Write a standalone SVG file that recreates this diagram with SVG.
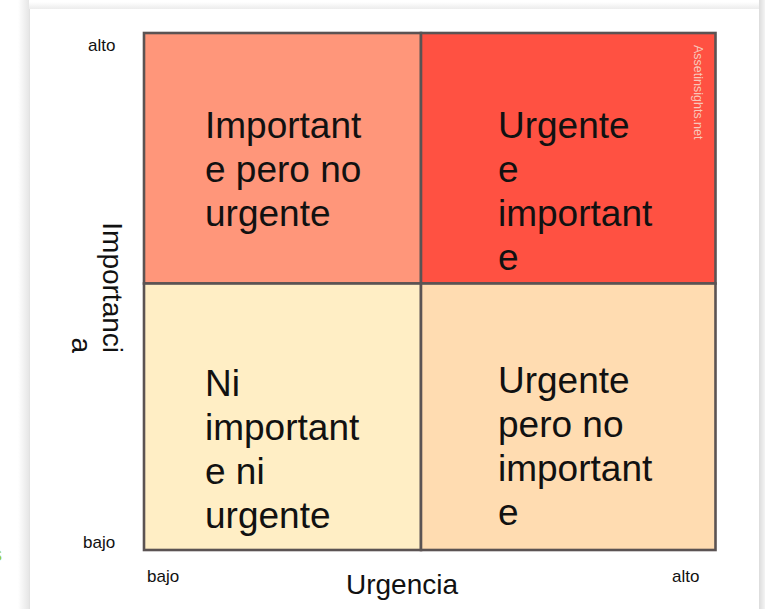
<svg xmlns="http://www.w3.org/2000/svg" width="765" height="609" viewBox="0 0 765 609">
<defs>
<linearGradient id="shL" x1="0" x2="1" y1="0" y2="0"><stop offset="0" stop-color="#ffffff"/><stop offset="1" stop-color="#e6e6e6"/></linearGradient>
<linearGradient id="shR" x1="0" x2="1" y1="0" y2="0"><stop offset="0" stop-color="#dcdcdc"/><stop offset="1" stop-color="#f4f4f4"/></linearGradient>
<linearGradient id="shT" x1="0" x2="0" y1="0" y2="1"><stop offset="0" stop-color="#ffffff"/><stop offset="1" stop-color="#ececec"/></linearGradient>
<style>
.q{stroke:#5b5353;stroke-width:2.6}
.big{font-family:"Liberation Sans",Arial,sans-serif;font-size:37px;fill:#111}
.sm{font-family:"Liberation Sans",Arial,sans-serif;font-size:17px;fill:#111}
.ax{font-family:"Liberation Sans",Arial,sans-serif;font-size:28px;fill:#111}
.wm{font-family:"Liberation Sans",Arial,sans-serif;font-size:12.5px;fill:#f7c7bb}
</style>
</defs>
<rect width="765" height="609" fill="#ffffff"/>
<rect x="18" y="0" width="11" height="609" fill="url(#shL)"/>
<rect x="29" y="2" width="731" height="7" fill="url(#shT)"/>
<rect x="759" y="0" width="6" height="609" fill="url(#shR)"/>
<rect x="29" y="9" width="730" height="600" fill="#ffffff"/>
<line x1="29.5" y1="9" x2="29.5" y2="609" stroke="#e2e2e2" stroke-width="1"/>
<text x="-8" y="561" font-family="Liberation Sans,Arial,sans-serif" font-size="20" fill="#9acd32">s</text>

<g id="q-tl"><rect class="q" x="144" y="33" width="277" height="250.5" fill="#ff967a"/>
<text class="big" x="205" y="138">Important</text><text class="big" x="205" y="182">e pero no</text><text class="big" x="205" y="226">urgente</text></g>
<g id="q-tr"><rect class="q" x="421" y="33" width="294.5" height="250.5" fill="#ff5142"/>
<text class="big" x="498" y="138">Urgente</text><text class="big" x="498" y="182">e</text><text class="big" x="498" y="226">important</text><text class="big" x="498" y="270">e</text>
<text class="wm" transform="translate(694,45) rotate(90)">Assetinsights.net</text></g>
<g id="q-bl"><rect class="q" x="144" y="283.5" width="277" height="266.5" fill="#ffeec5"/>
<text class="big" x="205" y="396">Ni</text><text class="big" x="205" y="440">important</text><text class="big" x="205" y="484">e ni</text><text class="big" x="205" y="528">urgente</text></g>
<g id="q-br"><rect class="q" x="421" y="283.5" width="294.5" height="266.5" fill="#ffdcb1"/>
<text class="big" x="498" y="393">Urgente</text><text class="big" x="498" y="437">pero no</text><text class="big" x="498" y="481">important</text><text class="big" x="498" y="525">e</text></g>

<g id="labels">
<text class="sm" x="88" y="51">alto</text>
<text class="sm" x="83" y="548">bajo</text>
<text class="sm" x="147" y="582">bajo</text>
<text class="sm" x="672" y="582">alto</text>
<text class="ax" x="346" y="594">Urgencia</text>
<text class="ax" text-anchor="end" transform="translate(103,353) rotate(90)"><tspan x="0" y="0">Importanci</tspan><tspan x="0" y="31">a</tspan></text>
</g>
</svg>
